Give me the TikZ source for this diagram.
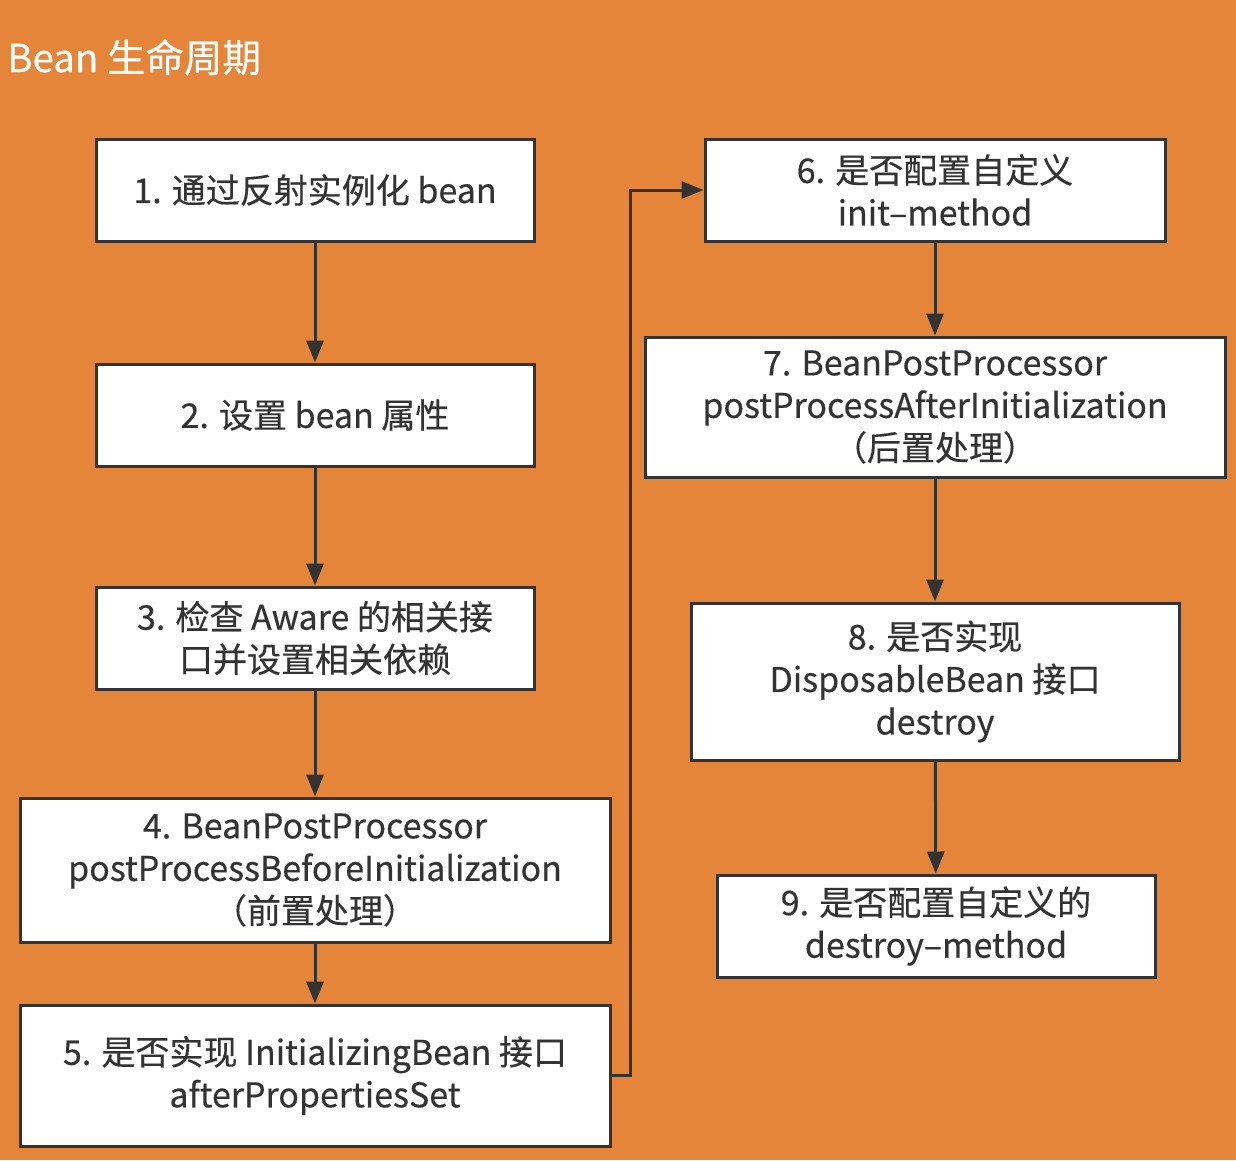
\documentclass[tikz,border=0pt]{standalone}
\usepackage{fontspec}
\setmainfont{Noto Sans CJK SC}[FakeBold=0.4]
\usetikzlibrary{arrows.meta}
\definecolor{bg}{HTML}{E5853A}
\definecolor{ink}{HTML}{333333}
\begin{document}
\begin{tikzpicture}[x=1pt,y=-1pt,
  box/.style={draw=ink,fill=white,line width=3pt,rectangle,inner sep=0pt,align=center,
    text=ink,font=\fontsize{34}{42.5}\selectfont},
  conn/.style={draw=ink,line width=3pt,-{Triangle[length=22pt,width=17pt]}}]
\fill[bg] (0,0) rectangle (1236,1160);
\useasboundingbox (0,0) rectangle (1236,1160);
\node[anchor=base west,text=white,inner sep=0pt,font=\fontsize{38.5}{44}\selectfont] (title) at (7,72) {Bean 生命周期};
\node[box,minimum width=438pt,minimum height=102pt] (b1) at (315,190) {1. 通过反射实例化 bean};
\node[box,minimum width=438pt,minimum height=102pt] (b2) at (315,415) {2. 设置 bean 属性};
\node[box,minimum width=438pt,minimum height=102pt] (b3) at (315,638) {3. 检查 Aware 的相关接\\口并设置相关依赖};
\node[box,minimum width=590pt,minimum height=144pt] (b4) at (315,870) {4. BeanPostProcessor\\postProcessBeforeInitialization\\（前置处理）};
\node[box,minimum width=590pt,minimum height=141pt] (b5) at (315,1075.5) {5. 是否实现 InitializingBean 接口\\afterPropertiesSet};
\node[box,minimum width=460pt,minimum height=102pt] (b6) at (935,190) {6. 是否配置自定义\\init–method};
\node[box,minimum width=580pt,minimum height=140pt] (b7) at (935,407) {7. BeanPostProcessor\\postProcessAfterInitialization\\（后置处理）};
\node[box,minimum width=488pt,minimum height=157pt] (b8) at (935,681.5) {8. 是否实现\\DisposableBean 接口\\destroy};
\node[box,minimum width=438pt,minimum height=102pt] (b9) at (936,926) {9. 是否配置自定义的\\destroy–method};
\draw[conn] (b1) -- (b2);
\draw[conn] (b2) -- (b3);
\draw[conn] (b3) -- (b4);
\draw[conn] (b4) -- (b5);
\draw[conn] (b5.east) -- ++(19,0) |- (b6.west);
\draw[conn] (b6) -- (b7);
\draw[conn] (b7) -- (b8);
\draw[conn] (b8) -- (b9);
\end{tikzpicture}
\end{document}
